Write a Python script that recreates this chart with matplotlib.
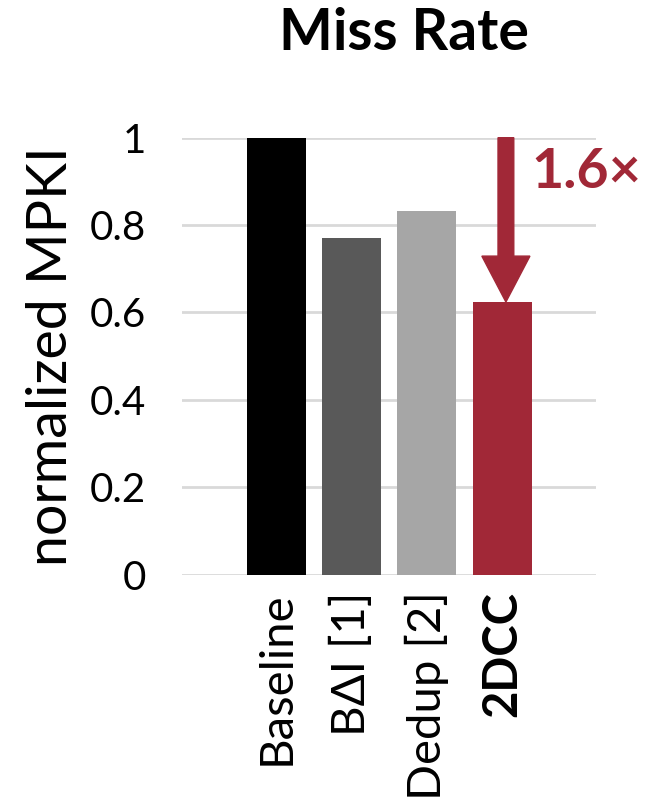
import matplotlib.pyplot as plt

# données
labels = ["Baseline", "BΔI [1]", "Dedup [2]", "2DCC"]
mpki = [1.0, 0.77, 0.832, 0.624]
colors = ["#000000", "#595959", "#a6a6a6", "#a12837"]
yticks = [0, 0.2, 0.4, 0.6, 0.8, 1.0]
ytick_labels = ["0", "0.2", "0.4", "0.6", "0.8", "1"]
speedup_label = "1.6×"

red = "#a12837"
fam = ["Lato", "DejaVu Sans"]
plt.rcParams['font.family'] = fam

fig = plt.figure(figsize=(6.47, 8.02), dpi=100)
ax = fig.add_axes([0.2813, 0.2835, 0.640, 0.5448])

x = list(range(len(labels)))
ax.bar(x, mpki, width=0.785, color=colors, zorder=3)

ax.set_xlim(-1.26, 4.25)
ax.set_ylim(0, 1.0)
ax.set_yticks(yticks)
ax.set_yticklabels(ytick_labels, fontsize=29)
ax.set_xticks(x)
ax.set_xticklabels(labels, rotation=90, fontsize=34, va='top')
ax.get_xticklabels()[3].set_fontweight('bold')
ax.tick_params(axis='both', length=0)
ax.tick_params(axis='y', pad=26)
ax.tick_params(axis='x', pad=12)

for s in ax.spines.values():
    s.set_visible(False)
ax.grid(axis='y', color='#d9d9d9', linewidth=2, zorder=0)
ax.set_axisbelow(True)

# flèche de réduction
ax.arrow(3.05, 1.0, 0, mpki[3] - 1.0, width=0.21, head_width=0.64,
         head_length=0.105, length_includes_head=True, color=red,
         zorder=4, clip_on=False)
ax.text(3.39, 0.885, speedup_label, color=red, fontsize=40, fontweight='bold',
        ha='left', va='baseline', clip_on=False)

fig.text(0.624, 0.958, "Miss Rate", fontsize=41, fontweight='bold',
         ha='center', va='center')
fig.text(0.079, 0.556, "normalized MPKI", fontsize=40, rotation=90,
         ha='center', va='center')

fig.savefig("out.png", dpi=100)
